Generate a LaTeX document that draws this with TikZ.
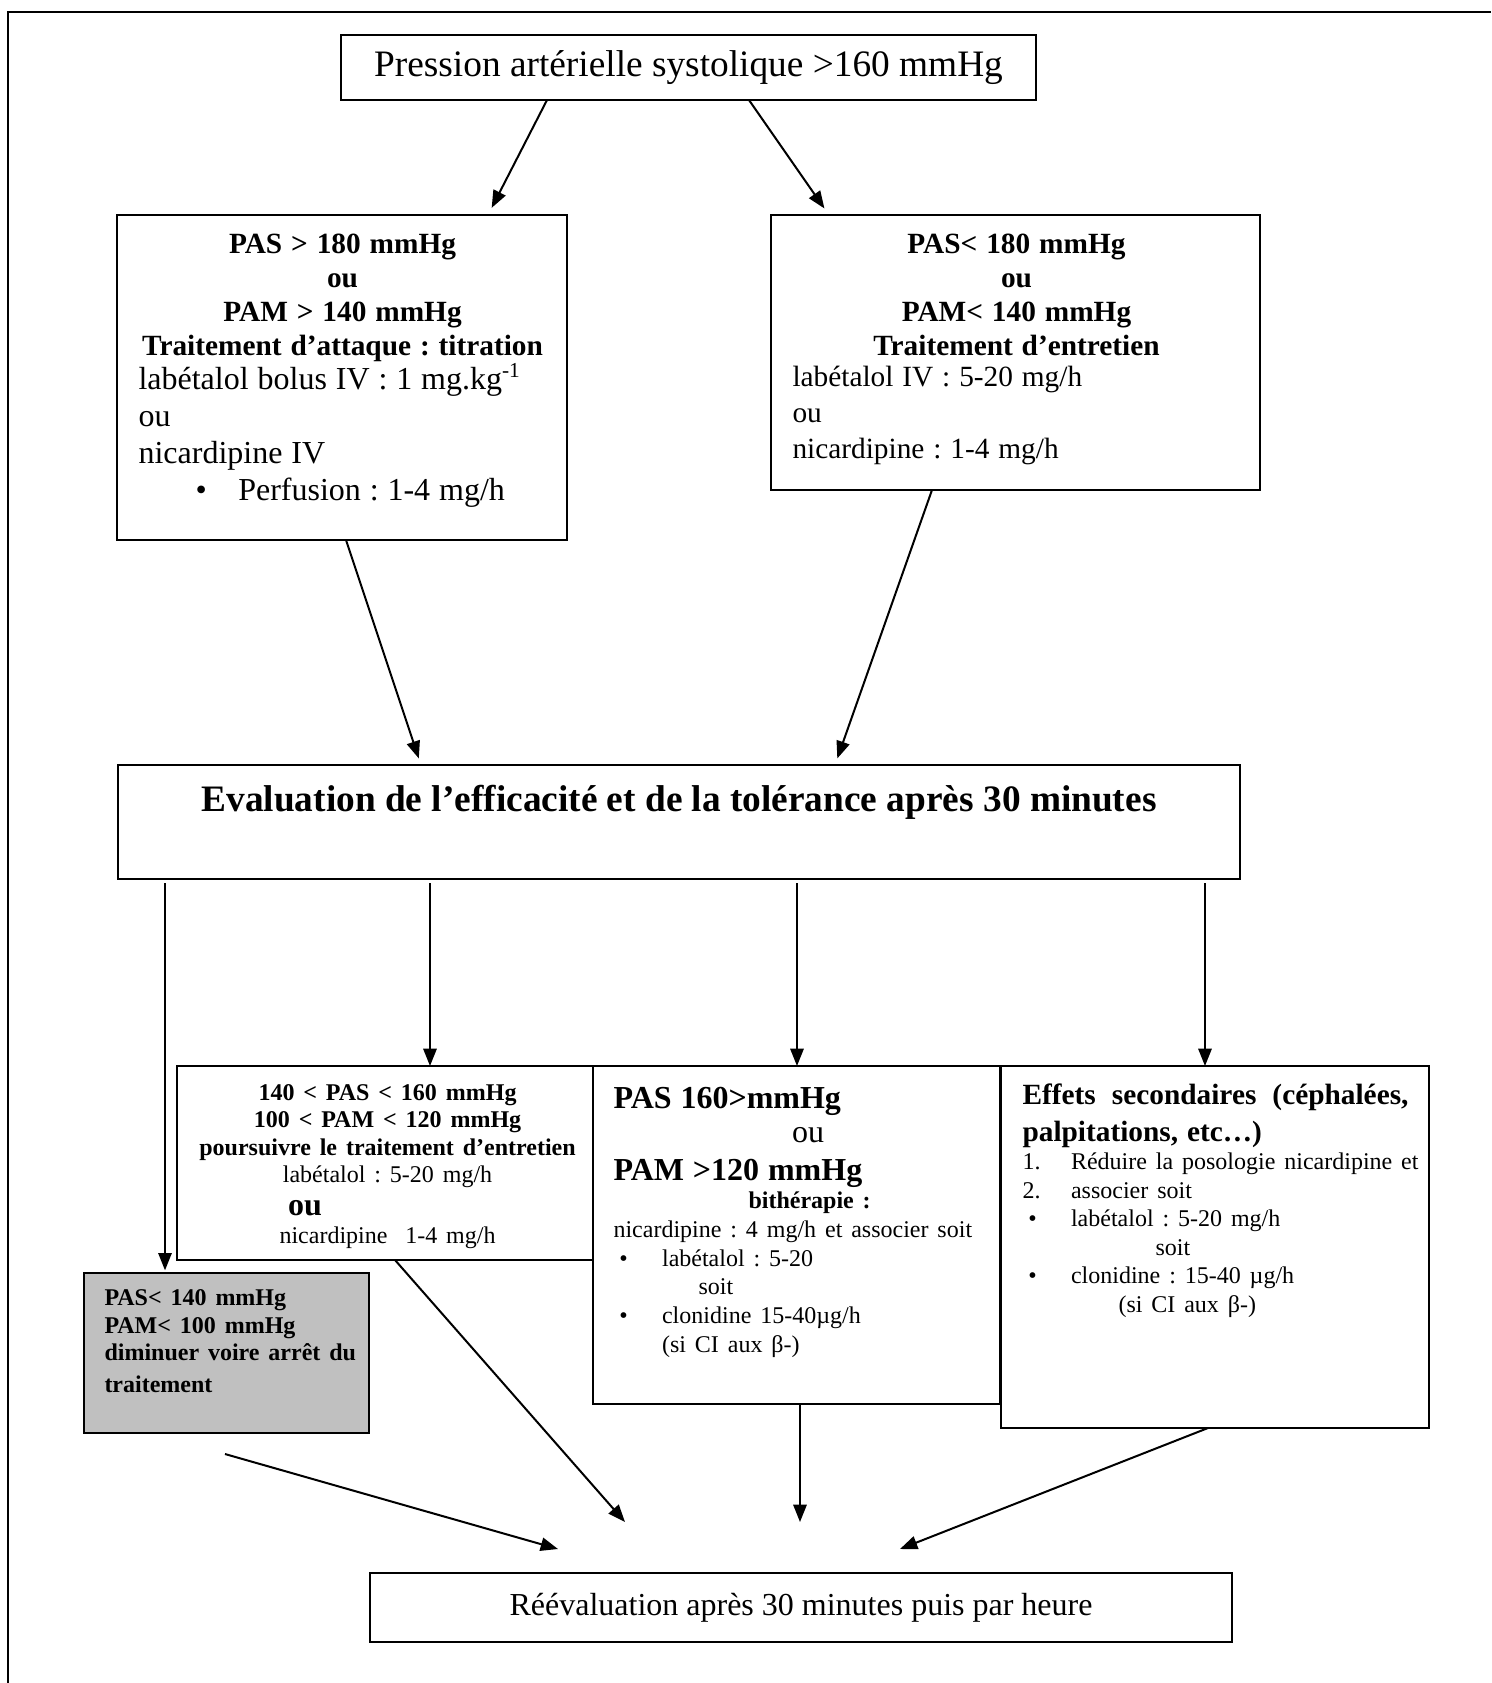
\documentclass[tikz,border=0pt]{standalone}
\usepackage{fontspec}
\setmainfont{Liberation Serif}
\usetikzlibrary{arrows.meta, calc}
\tikzstyle{box}=[draw,line width=0.9pt,fill=white,rectangle,inner sep=0pt,outer sep=0pt]
\tikzstyle{txt}=[anchor=north west,inner sep=0pt,align=left]
\tikzstyle{arr}=[line width=0.75pt,-{Triangle[length=6.5pt,width=5pt]}]
\definecolor{greyfill}{RGB}{192,192,192}
\setlength{\parindent}{0pt}
\frenchspacing
\newcommand{\fs}[2]{\fontsize{#1}{#2}\selectfont}
\newcommand{\bul}{\makebox[18.2pt][l]{\hspace*{2.2pt}\textbullet}}
\newcommand{\nlab}[1]{\makebox[18.2pt][l]{#1}}

\begin{document}
\begin{tikzpicture}[x=0.375pt,y=-0.375pt]
  \useasboundingbox (0,0) rectangle (1491,1683);
  % cadre
  \draw[line width=1pt] (8,1683) -- (8,12) -- (1491,12);
  % boites
  \node[box, minimum width=260.6pt, minimum height=24.4pt, font=\fs{14}{16.8}] (pas) at (688.5,67.5) {Pression artérielle systolique >160 mmHg};
  \node[box, minimum width=168.75pt, minimum height=121.9pt] (attaque) at (342,377.5) {};
  \node[box, minimum width=183.4pt, minimum height=103.1pt] (entretien) at (1015.5,352.5) {};
  \node[box, minimum width=420.75pt, minimum height=42.75pt] (eval) at (679,822) {};
  \node[box, minimum width=156pt, minimum height=72.75pt] (poursuivre) at (385,1163) {};
  \node[box, minimum width=152.6pt, minimum height=126.75pt] (bitherapie) at (796.5,1235) {};
  \node[box, minimum width=160.5pt, minimum height=135.75pt] (effets) at (1215,1247) {};
  \node[box, fill=greyfill, minimum width=106.9pt, minimum height=60pt] (arret) at (226.5,1353) {};
  \node[box, minimum width=323.25pt, minimum height=25.9pt, font=\fs{12}{14.4}] (reeval) at (801,1607.5) {Réévaluation après 30 minutes puis par heure};
  % textes
  \node[txt, text width=153pt] (attaquetxt) at ([shift={(21,18)}]attaque.north west) {%
    {\centering\bfseries\fs{11}{12.75}PAS > 180 mmHg\\ ou\\ PAM > 140 mmHg\\ Traitement d’attaque : titration\par}
    \vspace{-1.15pt}
    {\fs{12}{13.9}labétalol bolus IV : 1 mg.kg\textsuperscript{-1}\\ ou\\ nicardipine IV\\ \hspace*{19.2pt}\bul Perfusion : 1-4 mg/h\par}};
  \node[txt, text width=168pt] (entretientxt) at ([shift={(21,18)}]entretien.north west) {%
    {\centering\bfseries\fs{11}{12.75}PAS< 180 mmHg\\ ou\\ PAM< 140 mmHg\\ Traitement d’entretien\par}
    \vspace{-1.9pt}
    {\fs{11}{13.5}labétalol IV : 5-20 mg/h\\ ou\\ nicardipine : 1-4 mg/h\par}};
  \node[anchor=base, inner sep=0pt, font=\bfseries\fs{14}{16.8}] (evaltxt) at ($(eval.north)+(0,46)$) {Evaluation de l’efficacité et de la tolérance après 30 minutes};
  \node[txt, text width=148.5pt] (poursuivretxt) at ([shift={(12,18)}]poursuivre.north west) {%
    {\centering\fs{9}{10.3}\bfseries 140 < PAS < 160 mmHg\\ 100 < PAM < 120 mmHg\\ poursuivre le traitement d’entretien\\ \mdseries labétalol : 5-20 mg/h\par}
    {\fs{12}{12.4}\bfseries\hspace*{37pt}ou\par}
    {\centering\fs{9}{10.5}nicardipine\ \ 1-4 mg/h\par}};
  \node[txt, text width=139pt] (bitherapietxt) at ([shift={(20,21)}]bitherapie.north west) {%
    {\fs{12}{14}\bfseries PAS 160>mmHg\par}
    {\fs{12}{12.75}\hspace*{67pt}ou\par}
    {\fs{12}{14.25}\bfseries PAM >120 mmHg\par}
    {\fs{9}{10.5}\bfseries\hspace*{50.6pt}bithérapie :\par}
    {\fs{9}{10.75}nicardipine : 4 mg/h et associer soit\\ \bul labétalol : 5-20\\ \hspace*{31.9pt}soit\\ \bul clonidine 15-40µg/h\\ \hspace*{18.2pt}(si CI aux β-)\par}};
  \node[txt, text width=150pt] (effetstxt) at ([shift={(21,17)}]effets.north west) {%
    {\bfseries\fs{11}{13.9}\makebox[144.75pt][l]{Effets\hfill secondaires\hfill (céphalées,}\\ palpitations, etc…)\par}
    {\fs{9}{10.7}\nlab{1.}Réduire la posologie nicardipine et\\ \nlab{2.}associer soit\\ \bul labétalol : 5-20 mg/h\\ \hspace*{49.9pt}soit\\ \bul clonidine : 15-40 µg/h\\ \hspace*{36pt}(si CI aux β-)\par}};
  \node[txt, text width=97.5pt] (arrettxt) at ([shift={(20,16)}]arret.north west) {%
    \bfseries\fs{9}{10.4}PAS< 140 mmHg\\ PAM< 100 mmHg\\ diminuer voire arrêt du\\ traitement};
  % fleches
  \draw[arr, shorten >=3pt] (pas.south -| 547,0) -- (attaque.north -| 488,0);
  \draw[arr, shorten >=3pt] (pas.south -| 749,0) -- (entretien.north -| 829,0);
  \draw[arr, shorten >=2.6pt] (attaque.south -| 346,0) -- (eval.north -| 421,0);
  \draw[arr, shorten >=2.6pt] (entretien.south -| 932,0) -- (eval.north -| 835,0);
  \draw[arr, shorten <=1.5pt, shorten >=1pt] (eval.south -| 165,0) -- (arret.north -| 165,0);
  \draw[arr, shorten <=1.5pt] (eval.south -| 430,0) -- (poursuivre.north -| 430,0);
  \draw[arr, shorten <=1.5pt] (eval.south -| 797,0) -- (bitherapie.north -| 797,0);
  \draw[arr, shorten <=1.5pt] (eval.south -| 1205,0) -- (effets.north -| 1205,0);
  \coordinate (r1) at (558,1549);
  \coordinate (r2) at (625,1522);
  \coordinate (r3) at (800,1522);
  \coordinate (r4) at (900,1549);
  \draw[arr] ($(arret.south -| 225,0)+(0,21)$) -- (r1);
  \draw[arr] (poursuivre.south -| 395,0) -- (r2);
  \draw[arr] (bitherapie.south -| 800,0) -- (r3);
  \draw[arr] (effets.south -| 1208,0) -- (r4);
\end{tikzpicture}
\end{document}
